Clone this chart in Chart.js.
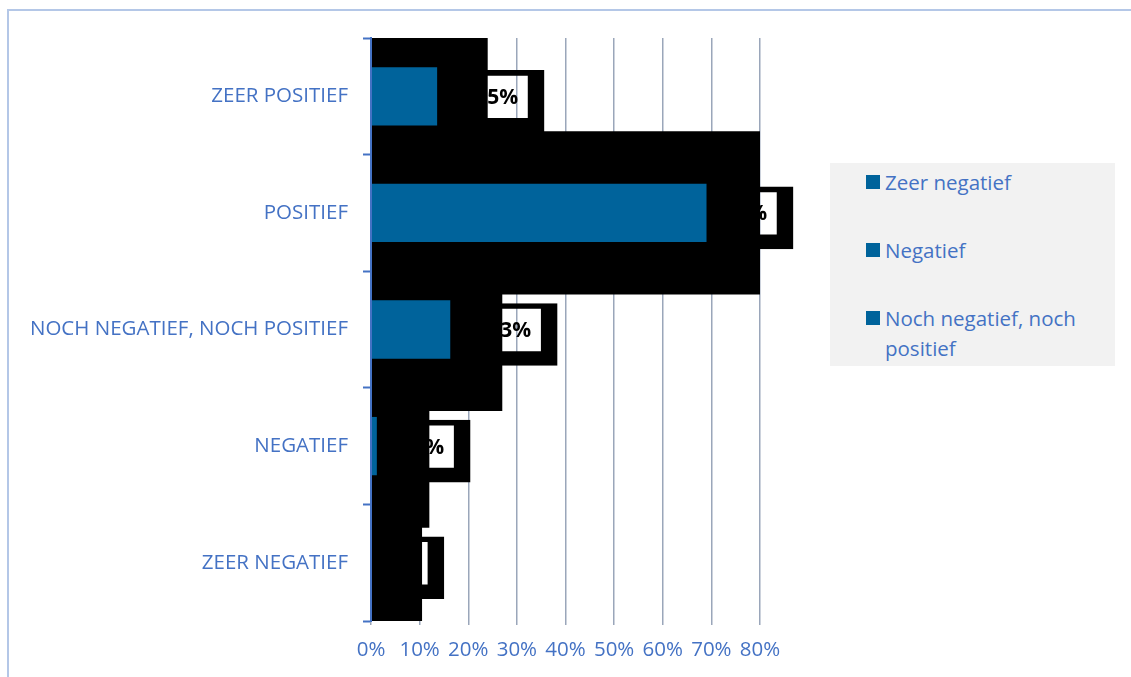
<!DOCTYPE html>
<html>
<head>
<meta charset="utf-8">
<script src="https://cdn.jsdelivr.net/npm/chart.js@4"></script>
<style>
    html, body { margin: 0; padding: 0; background: #fff; }
    #wrap { position: relative; width: 1131px; height: 677px; overflow: hidden; }
    #frame { position: absolute; left: 7px; top: 9px; right: -4px; bottom: -4px;
             border-left: 2px solid #B4C7E7; border-top: 2px solid #B4C7E7; }
    #chart { position: absolute; left: 0; top: 0; }
    #legend { position: absolute; left: 830px; top: 163px; width: 285px; height: 203px;
              background: #F2F2F2; font-family: 'Open Sans', sans-serif; font-size: 20.5px;
              color: #4472C4; line-height: 30px; }
    .item { position: absolute; left: 36px; display: flex; align-items: flex-start; }
    .swatch { width: 14px; height: 14px; margin-top: 8px; margin-right: 5px; flex: none; }
    .text { width: 215px; }
</style>
</head>
<body>
<div id="wrap">
    <div id="frame"></div>
    <canvas id="chart" width="1131" height="677"></canvas>
    <div id="legend"></div>
</div>
<script>
// categorieen (van boven naar onder)
const categories = ['ZEER POSITIEF', 'POSITIEF', 'NOCH NEGATIEF, NOCH POSITIEF', 'NEGATIEF', 'ZEER NEGATIEF'];
// blauwe balken
const shareValues = [0.136, 0.69, 0.163, 0.012, 0];
// grote zwarte blokken achter de balken
const shadowValues = [0.24, 0.80, 0.27, 0.12, 0.105];
// zwarte kaders rond de datalabels
const labelBoxValues = [0.356, 0.868, 0.383, 0.204, 0.15];
const labelTexts = ['15%', '69%', '13%', '1%', '0%'];
const xTickLabels = ['0%', '10%', '20%', '30%', '40%', '50%', '60%', '70%', '80%'];
const legendLabels = ['Zeer negatief', 'Negatief', 'Noch negatief, noch positief'];

const BLUE = '#00639B';
const TEXT_BLUE = '#4472C4';
const FONT = 'Open Sans';
const LABEL_SHIFT = 0.043; // kader staat iets lager dan het midden van de categorie
const LABEL_BORDER = { top: 5, right: 16, bottom: 14, left: 0 };

// legenda als html
const legendEl = document.getElementById('legend');
legendLabels.forEach((name, i) => {
    const item = document.createElement('div');
    item.className = 'item';
    item.style.top = (4 + 68 * i) + 'px';
    item.innerHTML = `<div class="swatch" style="background:${BLUE}"></div><div class="text">${name}</div>`;
    legendEl.appendChild(item);
});

// tekst van de labels, getekend voordat de zwarte blokken erover komen
const boxLabels = {
    id: 'boxLabels',
    afterDatasetDraw(chart, args) {
        if (args.index !== 2) return;
        const ctx = chart.ctx;
        ctx.save();
        ctx.font = `bold 21px "${FONT}"`;
        ctx.fillStyle = '#000';
        ctx.textAlign = 'right';
        ctx.textBaseline = 'middle';
        args.meta.data.forEach((bar, i) => {
            const top = bar.y - bar.height / 2 + LABEL_BORDER.top;
            const bottom = bar.y + bar.height / 2 - LABEL_BORDER.bottom;
            ctx.fillText(labelTexts[i], bar.x - LABEL_BORDER.right - 10, (top + bottom) / 2 + 1);
        });
        ctx.restore();
    }
};

new Chart(document.getElementById('chart'), {
    type: 'bar',
    data: {
        labels: categories,
        datasets: [
            {
                label: 'waarde',
                data: shareValues,
                backgroundColor: BLUE,
                grouped: false,
                categoryPercentage: 1,
                barPercentage: 0.5,
                order: 1
            },
            {
                label: 'blok',
                data: shadowValues,
                backgroundColor: '#000',
                grouped: false,
                categoryPercentage: 1,
                barPercentage: 1.4,
                clip: 0,
                order: 2
            },
            {
                label: 'kader',
                data: labelBoxValues.map((v, i) => ({ x: v, y: i + LABEL_SHIFT })),
                yAxisID: 'yShift',
                backgroundColor: 'rgba(0,0,0,0)',
                borderColor: '#000',
                borderWidth: LABEL_BORDER,
                borderSkipped: false,
                grouped: false,
                barThickness: 62,
                clip: false,
                order: 3
            }
        ]
    },
    options: {
        indexAxis: 'y',
        responsive: false,
        animation: false,
        events: [],
        layout: { padding: { top: 38, right: 371, bottom: 0, left: 0 } },
        plugins: {
            legend: { display: false },
            tooltip: { enabled: false }
        },
        scales: {
            x: {
                min: 0,
                max: 0.8,
                ticks: {
                    stepSize: 0.1,
                    autoSkip: false,
                    maxRotation: 0,
                    color: TEXT_BLUE,
                    font: { family: FONT, size: 20.5 },
                    padding: 13,
                    callback: (v, i) => xTickLabels[i]
                },
                grid: { color: '#9AA6BA', lineWidth: 1.5, tickLength: 4 },
                border: { display: false },
                afterFit: s => { s.height = 56; }
            },
            y: {
                type: 'category',
                offset: true,
                grid: { drawOnChartArea: false, offset: true, tickLength: 8, tickColor: TEXT_BLUE, tickWidth: 2 },
                border: { color: TEXT_BLUE, width: 2, z: 1 },
                ticks: { color: TEXT_BLUE, font: { family: FONT, size: 20.5 }, padding: 15 },
                afterFit: s => { s.width = 371; }
            },
            yShift: {
                type: 'linear',
                axis: 'y',
                position: 'left',
                display: false,
                offset: false,
                grid: { offset: false },
                reverse: true,
                min: -0.5,
                max: categories.length - 0.5
            }
        }
    },
    plugins: [boxLabels]
});
</script>
</body>
</html>
